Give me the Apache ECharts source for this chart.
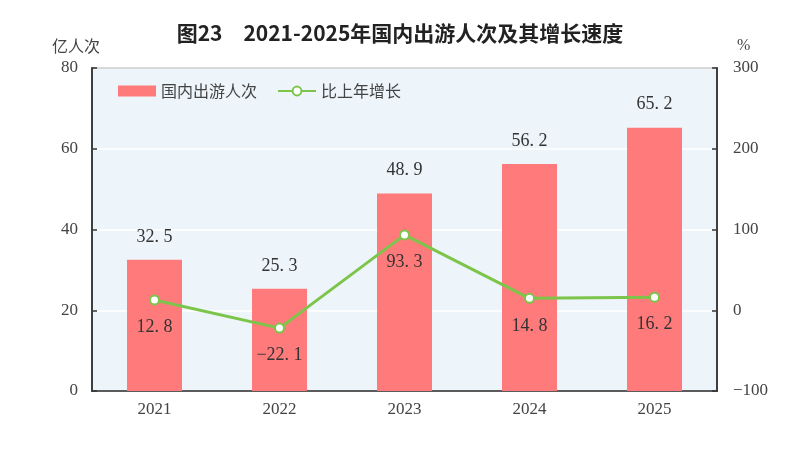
<!DOCTYPE html>
<html><head><meta charset="utf-8">
<script src="https://cdn.jsdelivr.net/npm/echarts@6/dist/echarts.min.js"></script>
<style>html,body{margin:0;padding:0;background:#fff}#c{width:800px;height:458px}</style>
</head><body><div id="c"></div>
<script>
const years = ['2021','2022','2023','2024','2025'];
const trips = [32.5, 25.3, 48.9, 56.2, 65.2];
const growth = [12.8, -22.1, 93.3, 14.8, 16.2];
const leftTicks = [0, 80, 20];
const rightTicks = [-100, 300, 100];

const serif = '"Liberation Serif","Noto Sans CJK SC",serif';
const cjk = '"Noto Sans CJK SC",sans-serif';
const fmt = p => p.value.toFixed(1).replace('.', '. ').replace('-', '−');
const chart = echarts.init(document.getElementById('c'));
chart.setOption({
  animation: false,
  backgroundColor: '#fff',
  title: {
    text: '图23　2021-2025年国内出游人次及其增长速度',
    left: 'center', top: 18,
    textStyle: {fontFamily: cjk, fontSize: 21, fontWeight: 'bold', color: '#222'}
  },
  legend: {
    left: 113, top: 78, itemGap: 20,
    itemWidth: 38, itemHeight: 11,
    textStyle: {fontFamily: cjk, fontSize: 16, color: '#444'},
    data: [{name: '国内出游人次', icon: 'rect'}, {name: '比上年增长'}]
  },
  grid: {left: 92, right: 83, top: 68, bottom: 67, show: true, backgroundColor: '#EDF5FA', borderColor: '#333', borderWidth: 1.5},
  xAxis: {
    type: 'category', data: years,
    axisLine: {lineStyle: {color: '#333', width: 1.5}},
    axisTick: {inside: true, length: 5, lineStyle: {color: '#333', width: 1.5}},
    axisLabel: {fontFamily: serif, fontSize: 17, color: '#444', margin: 10}
  },
  yAxis: [{
    type: 'value', min: leftTicks[0], max: leftTicks[1], interval: leftTicks[2],
    name: '亿人次', nameLocation: 'end', nameGap: 14,
    nameTextStyle: {fontFamily: cjk, fontSize: 16, color: '#444', align: 'right', padding: [0, -8, 0, 0]},
    axisLine: {show: true, lineStyle: {color: '#333', width: 1.5}},
    axisTick: {show: true, inside: true, length: 5, lineStyle: {color: '#333', width: 1.5}},
    axisLabel: {fontFamily: serif, fontSize: 17, color: '#444', margin: 14},
    splitLine: {lineStyle: {color: '#fff', width: 1.5}}
  }, {
    type: 'value', min: rightTicks[0], max: rightTicks[1], interval: rightTicks[2],
    name: '%', nameLocation: 'end', nameGap: 14,
    nameTextStyle: {fontFamily: serif, fontSize: 16, color: '#444', align: 'left', padding: [0, 0, 0, 20]},
    axisLine: {show: true, lineStyle: {color: '#333', width: 1.5}},
    axisTick: {show: true, inside: true, length: 5, lineStyle: {color: '#333', width: 1.5}},
    axisLabel: {fontFamily: serif, fontSize: 17, color: '#444', margin: 16, formatter: v => String(v).replace('-', '−')},
    splitLine: {show: false}
  }],
  series: [{
    name: '国内出游人次', type: 'bar', data: trips, barWidth: 55,
    itemStyle: {color: '#FF7B7B'},
    label: {show: true, position: 'top', distance: 14, fontFamily: serif, fontSize: 18, color: '#333', formatter: fmt}
  }, {
    name: '比上年增长', type: 'line', yAxisIndex: 1, data: growth,
    symbol: 'circle', symbolSize: 9,
    lineStyle: {color: '#7CC54A', width: 3},
    itemStyle: {color: '#fff', borderColor: '#7CC54A', borderWidth: 2},
    label: {show: true, position: 'bottom', distance: 13, fontFamily: serif, fontSize: 18, color: '#333', formatter: fmt},
    z: 5
  }]
});
</script></body></html>
